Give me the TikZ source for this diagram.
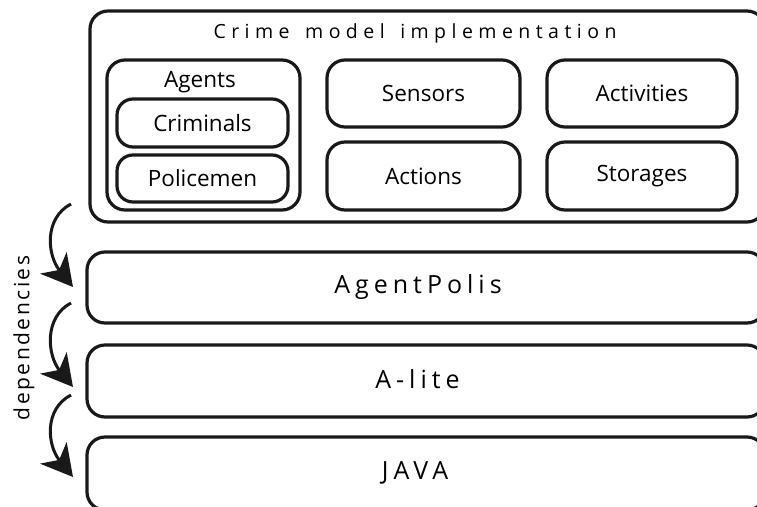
\documentclass[tikz,border=0pt]{standalone}
\usepackage{fontspec}
\setmainfont{Open Sans}
\usetikzlibrary{arrows.meta}
\tikzset{
  box/.style={draw=black!90, line width=3.2pt, rounded corners=18pt, inner sep=0pt},
  lbl/.style={inner sep=0pt, font=\fontsize{22.5}{24}\selectfont},
  wide/.style={inner sep=0pt, font=\fontsize{25}{27}\selectfont\addfontfeatures{LetterSpace=20}},
  dep/.style={draw=black!90, line width=3pt, -{Stealth[length=31pt,width=34pt,inset=9pt]}},
}
\begin{document}
\begin{tikzpicture}[x=1pt,y=-1pt]
\useasboundingbox (0,0) rectangle (757,506);
\clip (0,0) rectangle (757,506);
% outer
\node[box, minimum width=675pt, minimum height=211pt] (crime) at (427.5,116.5) {};
\node[inner sep=0pt, font=\fontsize{19.5}{21}\selectfont\addfontfeatures{LetterSpace=28}] (crimet) at (415,33) {Crime\hspace{5pt} model\hspace{5pt} implementation};
% agents
\node[box, minimum width=193pt, minimum height=150pt] (agents) at (203.5,135) {};
\node[lbl] (agentst) at (200,82) {Agents};
\node[box, minimum width=171pt, minimum height=48pt, rounded corners=16pt] (crim) at (202.5,123) {};
\node[lbl] at (crim) {Criminals};
\node[box, minimum width=171pt, minimum height=47pt, rounded corners=16pt] (pol) at (202.5,178.5) {};
\node[lbl] at (pol) {Policemen};
\node[box, minimum width=193pt, minimum height=67pt] (sens) at (423.5,93.5) {};
\node[lbl] at (sens) {Sensors};
\node[box, minimum width=193pt, minimum height=68pt] (act) at (423.5,176) {};
\node[lbl] at (act) {Actions};
\node[box, minimum width=190pt, minimum height=67pt] (activ) at (642,93.5) {};
\node[lbl] at (activ) {Activities};
\node[box, minimum width=190pt, minimum height=68pt] (stor) at (642,176) {};
\node[lbl] at (stor) {Storages};
% layers
\node[box, minimum width=678pt, minimum height=71pt] (ap) at (426,287.5) {};
\node[wide] (apt) at (418,287) {AgentPolis};
\node[box, minimum width=678pt, minimum height=72pt] (al) at (426,381) {};
\node[wide] (alt) at (417.5,379) {A-lite};
\node[box, minimum width=678pt, minimum height=73pt] (java) at (426,473.5) {};
\node[wide] (javat) at (415,473) {JAVA};
% dependencies
\node[inner sep=0pt, rotate=90, font=\fontsize{21}{23}\selectfont\addfontfeatures{LetterSpace=12}] (deps) at (24,338) {dependencies};
\coordinate (s1) at (71,204); \coordinate (e1) at (73,287);
\coordinate (s2) at (71,303); \coordinate (e2) at (73,387);
\coordinate (s3) at (71,395); \coordinate (e3) at (73,477);
\draw[dep] (s1) .. controls +(-27,14) and +(-26,-32) .. (e1);
\draw[dep] (s2) .. controls +(-27,14) and +(-26,-32) .. (e2);
\draw[dep] (s3) .. controls +(-27,14) and +(-26,-32) .. (e3);
\end{tikzpicture}
\end{document}
